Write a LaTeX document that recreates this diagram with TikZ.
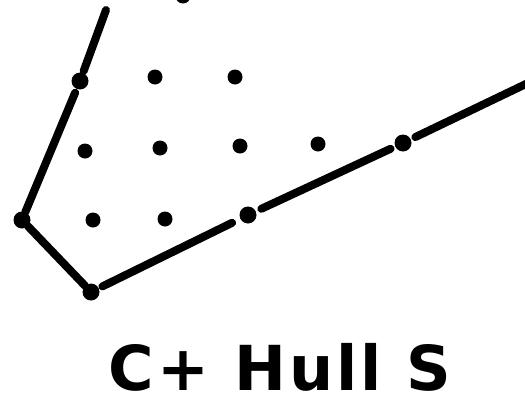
\documentclass[tikz,border=0pt]{standalone}
\usepackage{fontspec}
\setsansfont{DejaVu Sans}
\usepackage{tikz}
\usetikzlibrary{calc}

\begin{document}
\begin{tikzpicture}[x=1pt,y=-1pt,
  pt/.style={circle,fill=black,inner sep=0pt,minimum size=15pt},
  vx/.style={circle,fill=black,inner sep=0pt,minimum size=17pt},
  hull/.style={draw=black,line width=8pt,line cap=round},
  lbl/.style={inner sep=0pt,anchor=base,
              font=\sffamily\bfseries\fontsize{62}{62}\selectfont\addfontfeatures{LetterSpace=5}}
]
\useasboundingbox (0,0) rectangle (525,402);
% hull vertices
\coordinate (h0) at (106,10);
\node[vx] (h1) at (80,81) {};
\node[vx] (h2) at (22,220) {};
\node[vx] (h3) at (91,292) {};
\node[vx] (h4) at (248,215) {};
\node[vx] (h5) at (403,143) {};
\coordinate (h6) at (528,83);
% points inside
\node[pt] (p1) at (155,77) {};
\node[pt] (p2) at (235,77) {};
\node[pt] (p3) at (85,151) {};
\node[pt] (p4) at (160,148) {};
\node[pt] (p5) at (240,146) {};
\node[pt] (p6) at (318,144) {};
\node[pt] (p7) at (93,220) {};
\node[pt] (p8) at (165,219) {};
\node[pt] (p9) at (183,-4) {};
% cone edges
\draw[hull,shorten >=2pt] (h0) -- (h1);
\draw[hull,shorten <=4pt] (h1) -- (h2);
\draw[hull] (h2) -- (h3);
\draw[hull,shorten <=4pt,shorten >=9pt] (h3) -- (h4);
\draw[hull,shorten <=6pt,shorten >=5pt] (h4) -- (h5);
\draw[hull,shorten <=5pt] (h5) -- (h6);
\node[lbl] (cap) at (280,390) {C+ Hull S};
\end{tikzpicture}
\end{document}
